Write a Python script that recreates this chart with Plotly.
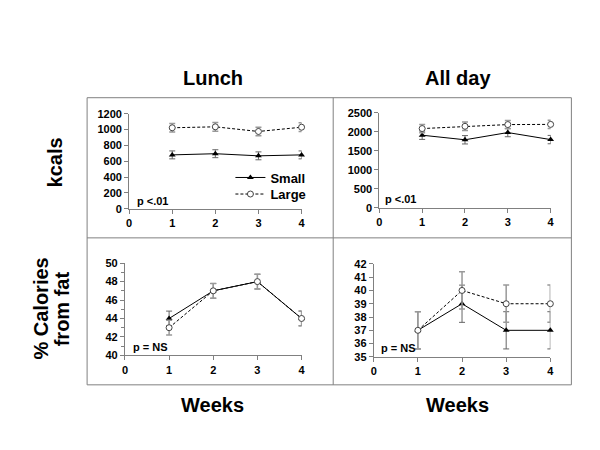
import plotly.graph_objects as go

weeks = [1, 2, 3, 4]
x_ticks = [0, 1, 2, 3, 4]

lunch_kcal_small = [680, 695, 668, 680]
lunch_kcal_small_err = [50, 50, 50, 50]
lunch_kcal_large = [1023, 1035, 976, 1030]
lunch_kcal_large_err = [55, 55, 55, 55]

allday_kcal_small = [1915, 1795, 1985, 1800]
allday_kcal_small_err = [110, 110, 110, 110]
allday_kcal_large = [2090, 2150, 2195, 2200]
allday_kcal_large_err = [110, 110, 110, 110]

lunch_fat_small = [44, 47, 48, 44]
lunch_fat_small_err = [0.8, 0.8, 0.8, 0.8]
lunch_fat_large = [43, 47, 48, 44]
lunch_fat_large_err = [0.8, 0.8, 0.8, 0.8]

allday_fat_small = [37, 39, 37, 37]
allday_fat_small_err = [1.4, 1.4, 1.4, 1.4]
allday_fat_large = [37, 40, 39, 39]
allday_fat_large_err = [1.4, 1.4, 1.4, 1.4]

FONT = "Liberation Sans, Arial, sans-serif"
W, H = 600, 450


def px(x):
    return x / W


def py(y):
    return 1 - y / H


fig = go.Figure()


def add_pair(small, small_err, large, large_err, xa, ya, legend):
    fig.add_trace(go.Scatter(
        x=weeks, y=small, name="Small", mode="lines+markers",
        xaxis=xa, yaxis=ya, showlegend=legend, legend="legend",
        cliponaxis=False,
        line=dict(color="black", width=1),
        marker=dict(symbol="triangle-up", size=6, color="black"),
        error_y=dict(type="data", array=small_err, visible=True,
                     color="#666666", thickness=1, width=3),
    ))
    fig.add_trace(go.Scatter(
        x=weeks, y=large, name="Large", mode="lines+markers",
        xaxis=xa, yaxis=ya, showlegend=legend, legend="legend2",
        cliponaxis=False,
        line=dict(color="black", width=1, dash="3px,2px"),
        marker=dict(symbol="circle", size=6, color="white",
                    line=dict(color="#444444", width=1)),
        error_y=dict(type="data", array=large_err, visible=True,
                     color="#999999", thickness=1.5, width=3),
    ))


add_pair(lunch_kcal_small, lunch_kcal_small_err, lunch_kcal_large, lunch_kcal_large_err, "x", "y", True)
add_pair(allday_kcal_small, allday_kcal_small_err, allday_kcal_large, allday_kcal_large_err, "x2", "y2", False)
add_pair(lunch_fat_small, lunch_fat_small_err, lunch_fat_large, lunch_fat_large_err, "x3", "y3", False)
add_pair(allday_fat_small, allday_fat_small_err, allday_fat_large, allday_fat_large_err, "x4", "y4", False)

tickfont = dict(family=FONT, size=11, color="black", weight="bold")
axis_common = dict(showline=True, linecolor="#808080", linewidth=1,
                   ticks="outside", ticklen=4, tickcolor="#808080",
                   showgrid=False, zeroline=False, tickfont=tickfont)

xdomains = {
    "xaxis": [px(119.5), px(294)],
    "xaxis2": [px(372.7), px(546)],
    "xaxis3": [px(115.3), px(294)],
    "xaxis4": [px(367), px(545.7)],
}
ydomains = {
    "yaxis": [py(200), py(102.5)],
    "yaxis2": [py(199.3), py(101.7)],
    "yaxis3": [py(350.7), py(256)],
    "yaxis4": [py(352.3), py(256.7)],
}
anchors = {"xaxis": "y", "xaxis2": "y2", "xaxis3": "y3", "xaxis4": "y4"}

legfont = dict(family=FONT, size=13, color="black", weight="bold")
layout = dict(
    width=W, height=H, margin=dict(l=0, r=0, t=0, b=0),
    paper_bgcolor="white", plot_bgcolor="white",
    font=dict(family=FONT, color="black"),
    legend=dict(x=px(222), y=py(168), xanchor="left", yanchor="middle",
                bgcolor="rgba(0,0,0,0)", font=legfont),
    legend2=dict(x=px(222), y=py(185), xanchor="left", yanchor="middle",
                 bgcolor="rgba(0,0,0,0)", font=legfont),
)
for k, d in xdomains.items():
    layout[k] = dict(axis_common, domain=d, range=[0, 4], tickvals=x_ticks,
                     anchor=anchors[k])
layout["yaxis"] = dict(axis_common, domain=ydomains["yaxis"], range=[0, 1200],
                       dtick=200, anchor="x")
layout["yaxis2"] = dict(axis_common, domain=ydomains["yaxis2"], range=[0, 2500],
                        dtick=500, anchor="x2")
layout["yaxis3"] = dict(axis_common, domain=ydomains["yaxis3"], range=[40, 50],
                        dtick=2, anchor="x3",
                        minor=dict(dtick=1, ticks="outside", ticklen=3, tickcolor="#808080"))
layout["yaxis4"] = dict(axis_common, domain=ydomains["yaxis4"], range=[35, 42],
                        dtick=1, anchor="x4")
fig.update_layout(**layout)

# outer frames
box = dict(type="line", xref="paper", yref="paper",
           line=dict(color="#808080", width=1))
L, M, R = 77, 326, 567
T, C, B = 86, 230, 381
for (x0, y0, x1, y1) in [(L, T, R, T), (L, C, R, C), (L, B, R, B),
                         (L, T, L, B), (M, T, M, B), (R, T, R, B)]:
    fig.add_shape(box, x0=px(x0), y0=py(y0), x1=px(x1), y1=py(y1))

big = dict(family=FONT, size=20, color="black", weight="bold")
small = dict(family=FONT, size=11, color="black", weight="bold")


def ann(text, x, y, font, angle=0, xanchor="center"):
    fig.add_annotation(text=text, x=px(x), y=py(y), xref="paper", yref="paper",
                       showarrow=False, font=font, textangle=angle,
                       xanchor=xanchor, yanchor="middle")


ann("Lunch", 204, 66, big)
ann("All day", 452, 66, big)
ann("Weeks", 204, 402, big)
ann("Weeks", 452, 402, big)
ann("kcals", 44, 152, big, angle=-90)
ann("% Calories", 30, 303, big, angle=-90)
ann("from fat", 52, 303, big, angle=-90)
ann("p <.01", 125, 192, small, xanchor="left")
ann("p <.01", 376, 190, small, xanchor="left")
ann("p = NS", 121, 342, small, xanchor="left")
ann("p = NS", 372, 343, small, xanchor="left")

fig.write_html("out.html")
